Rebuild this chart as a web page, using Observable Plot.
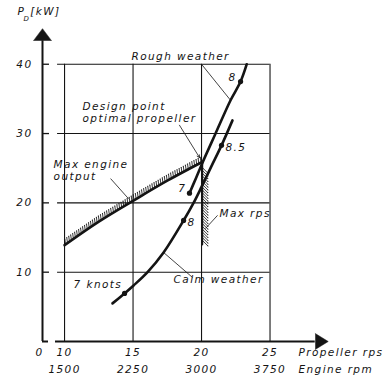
<!DOCTYPE html>
<html><head><meta charset="utf-8">
<script src="https://cdn.jsdelivr.net/npm/d3@7"></script>
<script src="https://cdn.jsdelivr.net/npm/@observablehq/plot@0.6"></script>
<style>body{margin:0;background:#fff}</style>
</head><body><div id="chart"></div>
<script>
// ---- data ----
const xTicks = [10, 15, 20, 25];
const rpmLabels = ["1500", "2250", "3000", "3750"];
const yTicks = [10, 20, 30, 40];
const calmWeather = [[13.5,5.5],[14.38,6.93],[15.04,8.08],[16.06,10],[17.23,12.84],[18.69,17.46],[19.42,20],[20.0,22.3],[20.7,25.2],[21.46,28.3],[22.26,31.9]];
const roughWeather = [[19.12,21.4],[19.6,23.6],[20.07,25.8],[21.0,29.9],[22.12,34.8],[22.85,37.5],[23.3,40]];
const maxEngineOutput = [[10,13.9],[12.5,17.3],[15,20.3],[17.5,23.2],[20.05,25.9]];
const maxRps = [[20.05,14.0],[20.05,25.9]];
const knots = [
  {x:14.38, y:6.93, label:"7 knots"},
  {x:18.69, y:17.46, label:"8"},
  {x:21.46, y:28.3, label:"8.5"},
  {x:19.12, y:21.4, label:"7"},
  {x:22.85, y:37.5, label:"8"}
];
const annotations = [
  {x:14.89, y:41.1, text:"Rough weather"},
  {x:11.31, y:33.9, text:"Design point"},
  {x:11.31, y:32.2, text:"optimal propeller"},
  {x:9.2, y:25.5, text:"Max engine"},
  {x:9.2, y:23.8, text:"output"},
  {x:18.98, y:17.2, text:"8"},
  {x:21.75, y:28.0, text:"8.5"},
  {x:21.97, y:38.1, text:"8"},
  {x:21.31, y:18.5, text:"Max rps"},
  {x:17.96, y:8.95, text:"Calm weather"},
  {x:10.66, y:8.2, text:"7 knots"}
];
const annotationsEnd = [
  {x:18.9, y:22.1, text:"7"}
];
const leaders = [
  {x1:20.0, y1:40, x2:22.12, y2:34.8},
  {x1:13.36, y1:23.5, x2:14.67, y2:20.6},
  {x1:21.17, y1:18.2, x2:20.29, y2:16.3},
  {x1:17.23, y1:12.84, x2:19.34, y2:9.24}
];
const designArrow = [{x1:18.39, y1:31.2, x2:19.85, y2:26.55}];

// ---- layout ----
const W = 389, H = 376;
const mL = 42, mR = 64, mT = 27, mB = 35;
const xDom = [8.39, 29.05], yDom = [0, 45.3];
const sx = d3.scaleLinear(xDom, [mL, W - mR]);
const sy = d3.scaleLinear(yDom, [H - mB, mT]);
const xAxisX = xDom[0];

// hatch positions sampled along a polyline every `step` pixels
function sampleAlong(pts, step) {
  const out = [];
  const px = pts.map(([a, b]) => [sx(a), sy(b)]);
  let carry = step / 2;
  for (let i = 0; i < px.length - 1; i++) {
    const [x0, y0] = px[i], [x1, y1] = px[i + 1];
    const len = Math.hypot(x1 - x0, y1 - y0);
    let t = carry;
    while (t < len) {
      out.push({x: sx.invert(x0 + (x1 - x0) * t / len), y: sy.invert(y0 + (y1 - y0) * t / len)});
      t += step;
    }
    carry = t - len;
  }
  return out;
}
const engineHatch = sampleAlong(maxEngineOutput, 2.4);
const rpsHatch = sampleAlong([[20.05,14.4],[20.05,25.5]], 2.8);

const font = "DejaVu Sans";
const ink = "#141414";
const T = {fontSize: 10.5, fontStyle: "italic", fill: ink};

const chart = Plot.plot({
  width: W, height: H,
  marginLeft: mL, marginRight: mR, marginTop: mT, marginBottom: mB,
  x: {domain: xDom, axis: null},
  y: {domain: yDom, axis: null},
  style: {fontFamily: font, letterSpacing: "1.4px", background: "#fff"},
  marks: [
    // grid
    Plot.ruleX(xTicks, {y1: 0, y2: 40, stroke: ink, strokeWidth: 1.1}),
    Plot.ruleY(yTicks, {x1: 9.49, x2: 25, stroke: ink, strokeWidth: 1.1}),
    // y ticks
    Plot.ruleY(yTicks, {x1: xAxisX, x2: 8.9, stroke: ink, strokeWidth: 1.3}),
    // axes
    Plot.ruleX([xAxisX], {y1: 0, y2: 43.4, stroke: ink, strokeWidth: 2}),
    Plot.ruleY([0], {x1: xAxisX, x2: 8.83, stroke: ink, strokeWidth: 2}),
    Plot.ruleY([0], {x1: 9.34, x2: 28.3, stroke: ink, strokeWidth: 2}),
    Plot.vector([{x: xAxisX, y: 43.4}], {x: "x", y: "y", length: 12, rotate: 0, anchor: "start", shape: "spike", r: 9, fill: ink, stroke: ink, strokeWidth: 0.5}),
    Plot.vector([{x: 28.3, y: 0}], {x: "x", y: "y", length: 13, rotate: 90, anchor: "start", shape: "spike", r: 8, fill: ink, stroke: ink, strokeWidth: 0.5}),
    // hatching
    Plot.vector(engineHatch, {x: "x", y: "y", length: 5.5, rotate: -8, anchor: "start", r: 0.01, stroke: ink, strokeWidth: 0.8}),
    Plot.vector(rpsHatch, {x: "x", y: "y", length: 8, rotate: 135, anchor: "start", r: 0.01, stroke: ink, strokeWidth: 0.8}),
    // curves
    Plot.line(maxEngineOutput, {x: d => d[0], y: d => d[1], curve: "natural", stroke: ink, strokeWidth: 2.6}),
    Plot.line(maxRps, {x: d => d[0], y: d => d[1], stroke: ink, strokeWidth: 2}),
    Plot.line(calmWeather, {x: d => d[0], y: d => d[1], curve: "catmull-rom", stroke: ink, strokeWidth: 2.6}),
    Plot.line(roughWeather, {x: d => d[0], y: d => d[1], curve: "catmull-rom", stroke: ink, strokeWidth: 2.6}),
    Plot.dot(knots, {x: "x", y: "y", r: 2.6, fill: ink}),
    // leaders
    Plot.link(leaders, {x1: "x1", y1: "y1", x2: "x2", y2: "y2", stroke: ink, strokeWidth: 0.8}),
    Plot.arrow(designArrow, {x1: "x1", y1: "y1", x2: "x2", y2: "y2", stroke: ink, strokeWidth: 0.8, headLength: 5, insetEnd: 0}),
    // annotations
    Plot.text(annotations, {x: "x", y: "y", text: "text", textAnchor: "start", ...T}),
    Plot.text(annotationsEnd, {x: "x", y: "y", text: "text", textAnchor: "end", ...T}),
    // tick labels
    Plot.text(yTicks, {x: 7.66, y: d => d, text: d => String(d), textAnchor: "end", ...T}),
    Plot.text(xTicks, {x: d => d, y: -1.6, text: d => String(d), ...T}),
    Plot.text([0], {x: 8.17, y: -1.6, text: d => String(d), ...T}),
    Plot.text(rpmLabels, {x: (d, i) => xTicks[i], y: -4.1, text: d => d, ...T}),
    Plot.text(["Propeller rps"], {x: 27.08, y: -1.6, text: d => d, textAnchor: "start", ...T}),
    Plot.text(["Engine rpm"], {x: 27.08, y: -4.1, text: d => d, textAnchor: "start", ...T}),
    // y axis title P_D [kW]
    Plot.text(["P"], {x: 6.57, y: 47.55, text: d => d, textAnchor: "start", ...T}),
    Plot.text(["D"], {x: 7.0, y: 46.6, text: d => d, textAnchor: "start", ...T, fontSize: 7}),
    Plot.text(["[kW]"], {x: 7.5, y: 47.55, text: d => d, textAnchor: "start", ...T})
  ]
});
document.getElementById("chart").appendChild(chart);
</script>
</body></html>
